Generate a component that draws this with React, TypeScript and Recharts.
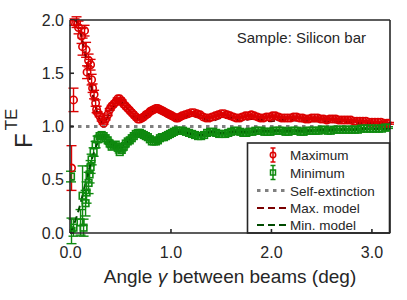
import { ComposedChart, Scatter, Line, XAxis, YAxis, ErrorBar, Customized } from 'recharts';

const RED = '#dc0000';
const GREEN = '#0f8a0f';
const DARK_RED = '#7a0000';
const DARK_GREEN = '#004a00';
const GRAY = '#808080';
const INK = '#262626';
const FONT = '"Liberation Sans", Arial, Helvetica, sans-serif';

const angleDomain = [-0.005, 3.18];
const angleTicks = [0, 1, 2, 3];
const fTicks = [0, 0.5, 1, 1.5, 2];

// [angle (deg), F, error]
const maximumPoints = [
  [0.01, 0.61, 0.21], [0.03, 1.25, 0.11], [0.04, 1.98, 0.03], [0.06, 1.98, 0.05], [0.08, 1.93, 0.06],
  [0.11, 1.85, 0.07], [0.12, 1.75, 0.08], [0.14, 1.9, 0.05], [0.155, 1.72, 0.07], [0.165, 1.51, 0.06],
  [0.18, 1.62, 0.06], [0.2, 1.58, 0.05], [0.21, 1.44, 0.05], [0.22, 1.36, 0.04], [0.235, 1.3, 0.04],
  [0.25, 1.22, 0.03], [0.26, 1.16, 0.03], [0.27, 1.13], [0.29, 1.1], [0.31, 1.06], [0.33, 1.03],
  [0.35, 1.07], [0.37, 1.11], [0.39, 1.16], [0.41, 1.19], [0.43, 1.21], [0.45, 1.23], [0.47, 1.26],
  [0.49, 1.26], [0.51, 1.24], [0.53, 1.21], [0.55, 1.19], [0.57, 1.17], [0.59, 1.15], [0.61, 1.13],
  [0.63, 1.11], [0.65, 1.09], [0.67, 1.07], [0.69, 1.07], [0.71, 1.08], [0.73, 1.09], [0.75, 1.11],
  [0.77, 1.12], [0.79, 1.14], [0.81, 1.15], [0.83, 1.16], [0.85, 1.17], [0.87, 1.17], [0.89, 1.16],
  [0.91, 1.15], [0.93, 1.14], [0.95, 1.13], [0.97, 1.12], [0.99, 1.11], [1.01, 1.1], [1.03, 1.09],
  [1.05, 1.08], [1.07, 1.08], [1.09, 1.09], [1.11, 1.1], [1.14, 1.11], [1.17, 1.12], [1.2, 1.13],
  [1.23, 1.13], [1.26, 1.12], [1.29, 1.11], [1.32, 1.09], [1.35, 1.08], [1.38, 1.08], [1.41, 1.09],
  [1.44, 1.1], [1.47, 1.11], [1.5, 1.12], [1.53, 1.12], [1.56, 1.11], [1.59, 1.1], [1.62, 1.09],
  [1.65, 1.08], [1.68, 1.08], [1.71, 1.09], [1.74, 1.1], [1.77, 1.1], [1.8, 1.11], [1.83, 1.1],
  [1.86, 1.09], [1.89, 1.08], [1.92, 1.08], [1.95, 1.09], [1.98, 1.09], [2.01, 1.1], [2.04, 1.1],
  [2.07, 1.09], [2.1, 1.08], [2.13, 1.08], [2.16, 1.08], [2.19, 1.08], [2.22, 1.09], [2.25, 1.09],
  [2.28, 1.08], [2.31, 1.08], [2.34, 1.07], [2.37, 1.07], [2.4, 1.08], [2.43, 1.08], [2.46, 1.08],
  [2.49, 1.07], [2.52, 1.07], [2.55, 1.06], [2.58, 1.07], [2.61, 1.07], [2.64, 1.07], [2.67, 1.06],
  [2.7, 1.06], [2.73, 1.06], [2.76, 1.06], [2.79, 1.06], [2.82, 1.05], [2.85, 1.05], [2.88, 1.05],
  [2.91, 1.05], [2.94, 1.05], [2.97, 1.04], [3.0, 1.04], [3.03, 1.04], [3.06, 1.04], [3.09, 1.04],
  [3.12, 1.03], [3.15, 1.03], [3.17, 1.03],
];

const minimumPoints = [
  [0.005, 0.53, 0.05], [0.01, 0.02, 0.12], [0.03, 0.05, 0.08], [0.1, 0.1, 0.12], [0.12, 0.35, 0.28],
  [0.13, 0.05, 0.08], [0.15, 0.28, 0.12], [0.16, 0.38, 0.1], [0.18, 0.47, 0.1], [0.19, 0.55, 0.08],
  [0.2, 0.62, 0.06], [0.21, 0.69, 0.05], [0.23, 0.76, 0.04], [0.25, 0.83, 0.03], [0.27, 0.88, 0.03],
  [0.29, 0.91], [0.31, 0.92], [0.33, 0.91], [0.35, 0.89], [0.37, 0.87], [0.39, 0.84], [0.41, 0.81],
  [0.43, 0.82], [0.45, 0.83], [0.47, 0.8], [0.49, 0.76], [0.51, 0.78], [0.53, 0.81], [0.55, 0.84],
  [0.57, 0.86], [0.59, 0.87], [0.61, 0.89], [0.63, 0.91], [0.65, 0.93], [0.67, 0.94], [0.69, 0.94],
  [0.71, 0.93], [0.73, 0.92], [0.75, 0.91], [0.77, 0.9], [0.79, 0.88], [0.81, 0.86], [0.83, 0.86],
  [0.85, 0.86], [0.87, 0.87], [0.89, 0.89], [0.91, 0.9], [0.93, 0.9], [0.95, 0.91], [0.97, 0.92],
  [0.99, 0.93], [1.01, 0.94], [1.03, 0.95], [1.05, 0.96], [1.07, 0.96], [1.09, 0.96], [1.12, 0.96],
  [1.15, 0.95], [1.18, 0.94], [1.21, 0.93], [1.24, 0.92], [1.27, 0.91], [1.3, 0.91], [1.33, 0.92],
  [1.36, 0.94], [1.39, 0.95], [1.42, 0.95], [1.45, 0.94], [1.48, 0.93], [1.51, 0.93], [1.54, 0.93],
  [1.57, 0.94], [1.6, 0.95], [1.63, 0.96], [1.66, 0.96], [1.69, 0.95], [1.72, 0.94], [1.75, 0.94],
  [1.78, 0.95], [1.81, 0.95], [1.84, 0.96], [1.87, 0.96], [1.9, 0.96], [1.93, 0.95], [1.96, 0.95],
  [1.99, 0.95], [2.02, 0.96], [2.05, 0.96], [2.08, 0.96], [2.11, 0.96], [2.14, 0.95], [2.17, 0.95],
  [2.2, 0.96], [2.23, 0.96], [2.26, 0.96], [2.29, 0.95], [2.32, 0.95], [2.35, 0.96], [2.38, 0.96],
  [2.41, 0.96], [2.44, 0.96], [2.47, 0.96], [2.5, 0.97], [2.53, 0.97], [2.56, 0.96], [2.59, 0.96],
  [2.62, 0.97], [2.65, 0.97], [2.68, 0.97], [2.71, 0.97], [2.74, 0.97], [2.77, 0.97], [2.8, 0.97],
  [2.83, 0.97], [2.86, 0.97], [2.89, 0.98], [2.92, 0.98], [2.95, 0.98], [2.98, 0.98], [3.01, 0.98],
  [3.04, 0.98], [3.07, 0.98], [3.1, 0.98], [3.13, 0.99], [3.16, 0.99],
];

const maxModel = [
  [0.05, 2.0], [0.08, 1.95], [0.1, 1.88], [0.12, 1.8], [0.15, 1.66], [0.18, 1.5], [0.2, 1.4],
  [0.23, 1.26], [0.26, 1.15], [0.29, 1.07], [0.32, 1.04], [0.35, 1.06], [0.4, 1.14], [0.45, 1.21],
  [0.5, 1.23], [0.55, 1.19], [0.6, 1.13], [0.65, 1.08], [0.7, 1.07], [0.75, 1.1], [0.8, 1.13],
  [0.85, 1.15], [0.9, 1.13], [0.95, 1.1], [1.0, 1.08], [1.05, 1.06], [1.1, 1.07], [1.2, 1.1],
  [1.3, 1.08], [1.4, 1.05], [1.5, 1.08], [1.6, 1.08], [1.7, 1.05], [1.8, 1.07], [1.9, 1.06],
  [2.0, 1.05], [2.1, 1.06], [2.2, 1.06], [2.3, 1.05], [2.4, 1.05], [2.5, 1.05], [2.6, 1.04],
  [2.7, 1.04], [2.8, 1.04], [2.9, 1.03], [3.0, 1.03], [3.1, 1.03], [3.18, 1.03],
];

const minModel = [
  [0.0, 0.0], [0.05, 0.12], [0.1, 0.28], [0.15, 0.47], [0.2, 0.65], [0.25, 0.8], [0.3, 0.89],
  [0.35, 0.9], [0.4, 0.85], [0.45, 0.81], [0.5, 0.8], [0.55, 0.84], [0.6, 0.89], [0.65, 0.92],
  [0.7, 0.93], [0.75, 0.91], [0.8, 0.88], [0.85, 0.87], [0.9, 0.89], [0.95, 0.91], [1.0, 0.93],
  [1.1, 0.95], [1.2, 0.93], [1.3, 0.92], [1.4, 0.95], [1.5, 0.94], [1.6, 0.95], [1.7, 0.95],
  [1.8, 0.95], [1.9, 0.96], [2.0, 0.96], [2.1, 0.96], [2.2, 0.96], [2.3, 0.96], [2.4, 0.96],
  [2.5, 0.97], [2.6, 0.97], [2.7, 0.97], [2.8, 0.97], [2.9, 0.98], [3.0, 0.98], [3.1, 0.98], [3.18, 0.98],
];

const selfExtinction = [[-0.005, 1], [3.18, 1]];

const legendLabels = ['Maximum', 'Minimum', 'Self-extinction', 'Max. model', 'Min. model'];

const toPoints = (rows: number[][]) => rows.map(r => ({ x: r[0], y: r[1], err: r[2] ?? 0.008 }));

const maxData = toPoints(maximumPoints);
const minData = toPoints(minimumPoints);
const maxModelData = toPoints(maxModel);
const minModelData = toPoints(minModel);
const selfData = toPoints(selfExtinction);

const RedCircle = (p: any) => (
  <circle cx={p.cx} cy={p.cy} r={3.7} fill="none" stroke={RED} strokeWidth={1.6} />
);

const GreenSquare = (p: any) => (
  <rect x={p.cx - 3.3} y={p.cy - 3.3} width={6.6} height={6.6} fill="none" stroke={GREEN} strokeWidth={1.6} />
);

function ErrIcon({ x, y, color, square }: { x: number; y: number; color: string; square?: boolean }) {
  return (
    <g stroke={color} strokeWidth={1.5} fill="none">
      <line x1={x} y1={y - 7} x2={x} y2={y + 7} />
      <line x1={x - 2.5} y1={y - 7} x2={x + 2.5} y2={y - 7} />
      <line x1={x - 2.5} y1={y + 7} x2={x + 2.5} y2={y + 7} />
      {square
        ? <rect x={x - 2.5} y={y - 2.5} width={5} height={5} />
        : <circle cx={x} cy={y} r={2.7} />}
    </g>
  );
}

function LegendBox() {
  const left = 247.5;
  const top = 143;
  const rows = [155, 172.5, 190.5, 208, 225];
  return (
    <g fontFamily={FONT}>
      <rect x={left} y={top} width={142} height={90} fill="#fff" stroke={INK} strokeWidth={1.6} />
      <ErrIcon x={273} y={rows[0]} color={RED} />
      <ErrIcon x={273} y={rows[1]} color={GREEN} square />
      <line x1={257} y1={rows[2]} x2={288} y2={rows[2]} stroke={GRAY} strokeWidth={3} strokeDasharray="3.5 4.5" />
      <line x1={257} y1={rows[3]} x2={290} y2={rows[3]} stroke={DARK_RED} strokeWidth={2} strokeDasharray="7 4" />
      <line x1={257} y1={rows[4]} x2={290} y2={rows[4]} stroke={DARK_GREEN} strokeWidth={2} strokeDasharray="7 4" />
      {legendLabels.map((t, i) => (
        <text key={t} x={290} y={rows[i] + 5} fontSize={13.5} fill={INK}>{t}</text>
      ))}
    </g>
  );
}

function SampleNote() {
  return (
    <text x={366} y={43} textAnchor="end" fontFamily={FONT} fontSize={15} fill={INK}>
      Sample: Silicon bar
    </text>
  );
}

function FLabel() {
  return (
    <text transform="translate(32,148) rotate(-90)" fontFamily={FONT} fontSize={24} fill={INK}>
      F<tspan dy={-15} dx={3} fontSize={17}>TE</tspan>
    </text>
  );
}

function AngleLabel() {
  return (
    <text x={230} y={283} textAnchor="middle" fontFamily={FONT} fontSize={19} fill={INK}>
      Angle <tspan fontStyle="italic">γ</tspan> between beams (deg)
    </text>
  );
}

const tickStyle = { fontSize: 16, fill: INK, fontFamily: FONT };
const axisStroke = { stroke: INK, strokeWidth: 1.6 };

export default function App() {
  return (
    <div style={{ position: 'absolute', left: 0, top: 0, width: 407, height: 300, background: '#fff' }}>
      <ComposedChart width={407} height={300} data={maxData} margin={{ top: 19, right: 16, bottom: 0, left: 0 }}>
        <XAxis
          dataKey="x"
          type="number"
          domain={angleDomain}
          ticks={angleTicks}
          allowDataOverflow
          tickFormatter={(v: number) => v.toFixed(1)}
          tick={tickStyle}
          tickSize={-4}
          tickMargin={18}
          axisLine={axisStroke}
          tickLine={axisStroke}
          height={67}
          label={<AngleLabel />}
        />
        <XAxis
          xAxisId="top"
          orientation="top"
          dataKey="x"
          type="number"
          domain={angleDomain}
          ticks={angleTicks}
          allowDataOverflow
          tick={false}
          tickSize={-4}
          axisLine={axisStroke}
          tickLine={axisStroke}
          height={1}
        />
        <YAxis
          dataKey="y"
          type="number"
          domain={[0, 2]}
          ticks={fTicks}
          allowDataOverflow
          tickFormatter={(v: number) => v.toFixed(1)}
          tick={tickStyle}
          tickSize={-4}
          tickMargin={10}
          axisLine={axisStroke}
          tickLine={axisStroke}
          width={70}
          label={<FLabel />}
        />
        <YAxis
          yAxisId="right"
          orientation="right"
          dataKey="y"
          type="number"
          domain={[0, 2]}
          ticks={fTicks}
          allowDataOverflow
          tick={false}
          tickSize={-4}
          axisLine={axisStroke}
          tickLine={axisStroke}
          width={1}
        />
        <Scatter data={maxData} fill={RED} shape={RedCircle} isAnimationActive={false}>
          <ErrorBar dataKey="err" direction="y" width={5} stroke={RED} strokeWidth={1.4} />
        </Scatter>
        <Scatter data={minData} fill={GREEN} shape={GreenSquare} isAnimationActive={false}>
          <ErrorBar dataKey="err" direction="y" width={5} stroke={GREEN} strokeWidth={1.4} />
        </Scatter>
        <Line data={selfData} dataKey="y" stroke={GRAY} strokeWidth={3} strokeDasharray="3.5 4.5" dot={false} isAnimationActive={false} />
        <Line data={maxModelData} dataKey="y" type="monotone" stroke={DARK_RED} strokeWidth={2} strokeDasharray="7 4" dot={false} isAnimationActive={false} />
        <Line data={minModelData} dataKey="y" type="monotone" stroke={DARK_GREEN} strokeWidth={2} strokeDasharray="7 4" dot={false} isAnimationActive={false} />
        <Customized component={<SampleNote />} />
        <Customized component={<LegendBox />} />
      </ComposedChart>
    </div>
  );
}
